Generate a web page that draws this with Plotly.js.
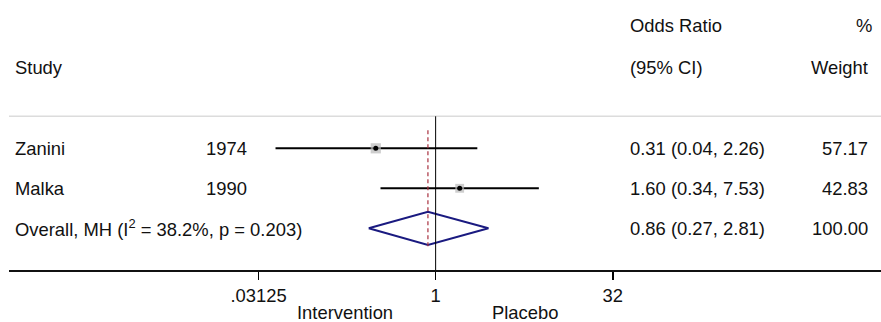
<!DOCTYPE html>
<html><head><meta charset="utf-8">
<script src="https://cdn.plot.ly/plotly-3.0.1.min.js"></script>
<style>html,body{margin:0;padding:0;background:#fff}#chart{width:881px;height:322px}</style>
</head><body><div id="chart"></div>
<script>
// ---- data ----
const studies = ["Zanini", "Malka"];
const years = ["1974", "1990"];
const orEst = [0.31, 1.60];
const ciLow = [0.0436, 0.34];
const ciHigh = [2.26, 7.53];
const weights = [57.17, 42.83];
const overallLabel = "Overall, MH (I<sup>2</sup> = 38.2%, p = 0.203)";
const overallEst = [0.86];
const overallLow = [0.27];
const overallHigh = [2.81];
const overallWeight = [100.00];
const tickVals = [0.03125, 1, 32];
const tickText = [".03125", "1", "32"];
const sideLabels = ["Intervention", "Placebo"];

// ---- layout helpers (pixel -> paper) ----
const W = 881, H = 322, ML = 9, MB = 52;
const PW = W - ML, PH = H - MB;
const px = x => (x - ML) / PW;
const py = y => (PH - y) / PH;

const rowY = [3, 2];
const overallY = 1;
const FONT = "Liberation Sans, Arial, sans-serif";
const TXT = "#111";
const FS = 18.4;

const traces = [];
// CI lines
const ciX = [], ciY = [];
studies.forEach((s, i) => { ciX.push(ciLow[i], ciHigh[i], null); ciY.push(rowY[i], rowY[i], null); });
traces.push({type: "scatter", mode: "lines", x: ciX, y: ciY, line: {color: "#000", width: 2}, hoverinfo: "skip"});
// weight boxes
traces.push({type: "scatter", mode: "markers", x: orEst, y: rowY,
  marker: {symbol: "square", size: weights.map(w => 1.35 * Math.sqrt(w)), color: "#b9b9b9", line: {width: 0}}});
// point estimates
traces.push({type: "scatter", mode: "markers", x: orEst, y: rowY,
  marker: {symbol: "circle", size: 5, color: "#000"}});
// overall diamond
const h = 0.415;
traces.push({type: "scatter", mode: "lines",
  x: [overallLow[0], overallEst[0], overallHigh[0], overallEst[0], overallLow[0]],
  y: [overallY, overallY + h, overallY, overallY - h, overallY],
  line: {color: "#1a1a80", width: 2}});
// overall dashed line
traces.push({type: "scatter", mode: "lines", x: [overallEst[0], overallEst[0]], y: [3.45, 0.5],
  line: {color: "#a8303f", width: 1.2, dash: "4px,3px"}});

const ann = [];
const addText = (text, x, y, xanchor, yref, yanchor) => ann.push({text, x: px(x), xref: "paper", y, yref: yref || "y",
  xanchor, yanchor: yanchor || "middle", showarrow: false, borderpad: 0, borderwidth: 0,
  font: {family: FONT, size: FS, color: TXT}});

// headers
addText("Odds Ratio", 630, 6.08, "left");
addText("%", 872, 6.08, "right");
addText("Study", 15, 5.03, "left");
addText("(95% CI)", 630, 5.03, "left");
addText("Weight", 868, 5.03, "right");
// study rows
const fmt = (e, l, u) => e.toFixed(2) + " (" + l.toFixed(2) + ", " + u.toFixed(2) + ")";
studies.forEach((s, i) => {
  addText(s, 15, rowY[i], "left");
  addText(years[i], 206, rowY[i], "left");
  addText(fmt(orEst[i], ciLow[i], ciHigh[i]), 630, rowY[i], "left");
  addText(weights[i].toFixed(2), 868, rowY[i], "right");
});
addText(overallLabel, 15, overallY, "left");
addText(fmt(overallEst[0], overallLow[0], overallHigh[0]), 630, overallY, "left");
addText(overallWeight[0].toFixed(2), 868, overallY, "right");
// side labels
addText(sideLabels[0], 345, py(323), "center", "paper", "bottom");
addText(sideLabels[1], 525, py(323), "center", "paper", "bottom");

const y0 = -0.0425;
const layout = {
  width: W, height: H,
  margin: {l: ML, r: 0, t: 0, b: MB, pad: 0},
  paper_bgcolor: "#fff", plot_bgcolor: "#fff",
  showlegend: false,
  xaxis: {type: "log", range: [-3.625, 3.784], tickvals: tickVals, ticktext: tickText,
    ticks: "outside", ticklen: 8, tickwidth: 1.5, tickcolor: "#000",
    showline: true, linecolor: "#111", linewidth: 1.5, showgrid: false, zeroline: false,
    tickfont: {family: FONT, size: FS, color: TXT}, fixedrange: true},
  yaxis: {range: [y0, y0 + PH / 40], visible: false, fixedrange: true},
  shapes: [
    {type: "line", xref: "paper", yref: "y", x0: 0, x1: 1, y0: 3.8, y1: 3.8, line: {color: "#dcdcdc", width: 1.5}},
    {type: "line", xref: "x", yref: "y", x0: 1, x1: 1, y0: y0, y1: 3.8, line: {color: "#000", width: 1}}
  ],
  annotations: ann
};
Plotly.newPlot("chart", traces, layout, {staticPlot: true, displayModeBar: false});
</script></body></html>
